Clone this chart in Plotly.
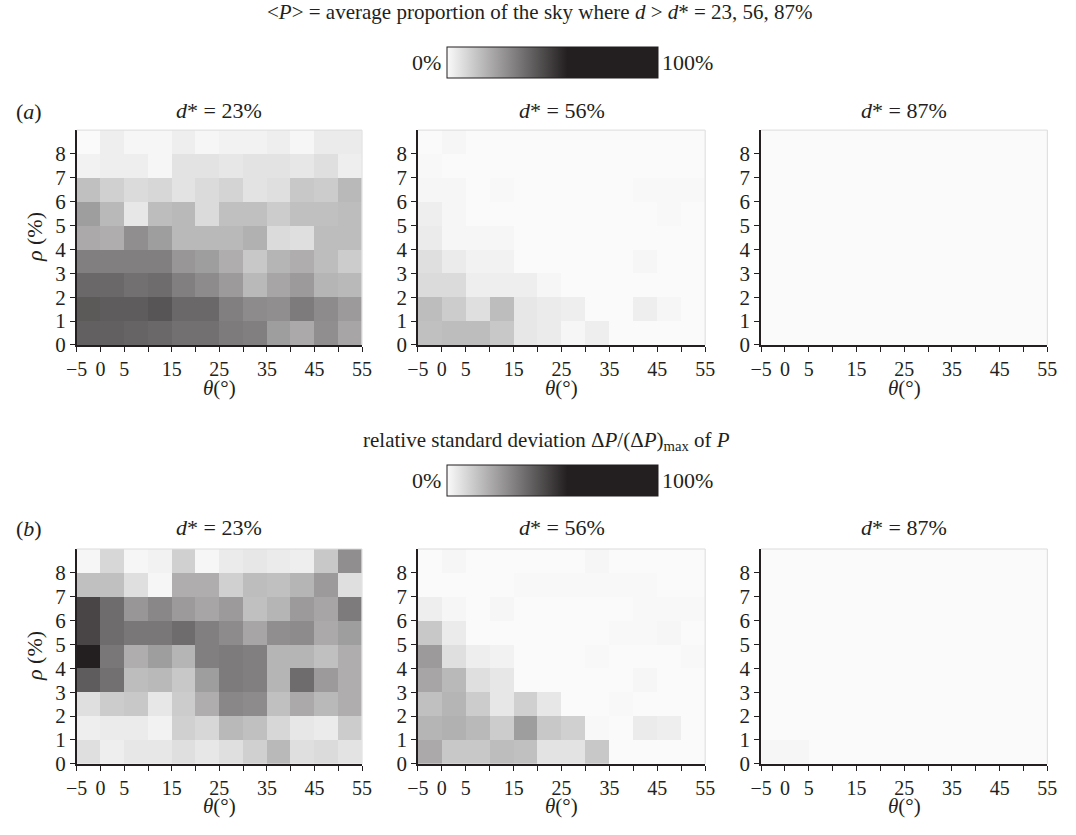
import plotly.graph_objects as go

# ---- data ----
theta_edges = [-5, 0, 5, 10, 15, 20, 25, 30, 35, 40, 45, 50, 55]
rho_edges = [0, 1, 2, 3, 4, 5, 6, 7, 8, 9]
x_tickvals = [-5, 0, 5, 10, 15, 20, 25, 30, 35, 40, 45, 50, 55]
x_ticktext = ["\u22125", "0", "5", " ", "15", " ", "25", " ", "35", " ", "45", " ", "55"]
y_tickvals = [0, 1, 2, 3, 4, 5, 6, 7, 8]
panel_titles = ["23", "56", "87"]

# average proportion <P> (%) ; rows rho = 0..8 (bottom to top)
P_23 = [
    [40, 40, 39, 38, 36, 36, 33, 32, 24, 21, 28, 22],
    [42, 41, 41, 43, 38, 38, 32, 29, 28, 33, 29, 25],
    [38, 38, 36, 37, 32, 29, 25, 17, 22, 25, 18, 17],
    [32, 32, 32, 32, 26, 24, 20, 13, 18, 20, 16, 12],
    [21, 20, 28, 24, 17, 17, 17, 19, 8, 7, 16, 16],
    [24, 17, 5, 16, 17, 8, 15, 15, 12, 15, 15, 16],
    [15, 11, 8, 9, 6, 8, 10, 6, 7, 13, 12, 17],
    [2, 3, 3, 1, 6, 6, 5, 6, 6, 5, 7, 3],
    [0, 3, 1, 1, 3, 1, 2, 2, 3, 1, 4, 4],
]
P_56 = [
    [15, 16, 16, 13, 5, 4, 1, 3, 0, 0, 0, 0],
    [16, 12, 7, 16, 5, 4, 3, 0, 0, 3, 1, 0],
    [8, 8, 3, 3, 3, 1, 0, 0, 0, 0, 0, 0],
    [7, 4, 2, 2, 0, 0, 0, 0, 0, 1, 0, 0],
    [4, 1, 1, 1, 0, 0, 0, 0, 0, 0, 0, 0],
    [3, 1, 0, 0, 0, 0, 0, 0, 0, 0, 0.5, 0],
    [1, 1, 0, 0.5, 0, 0, 0, 0, 0, 0.5, 0.5, 0.5],
    [0.5, 0, 0, 0, 0, 0, 0, 0, 0, 0, 0, 0],
    [0, 1, 0, 0, 0, 0, 0, 0, 0, 0, 0, 0],
]
P_87 = [[0] * 12 for _ in range(9)]

# relative standard deviation dP/(dP)max (%)
dP_23 = [
    [7, 3, 5, 5, 7, 5, 7, 11, 17, 7, 8, 6],
    [3, 4, 4, 2, 11, 9, 17, 15, 9, 5, 4, 12],
    [7, 12, 13, 5, 12, 20, 30, 29, 15, 21, 17, 20],
    [41, 36, 16, 17, 13, 24, 33, 32, 18, 37, 25, 20],
    [100, 34, 20, 24, 18, 32, 33, 32, 18, 18, 15, 20],
    [47, 37, 34, 34, 37, 32, 29, 22, 28, 29, 21, 24],
    [47, 37, 26, 30, 25, 22, 25, 15, 18, 25, 22, 33],
    [15, 15, 7, 1, 20, 20, 11, 16, 15, 18, 25, 7],
    [1, 9, 1, 2, 11, 1, 4, 5, 4, 3, 13, 28],
]
dP_56 = [
    [21, 13, 13, 16, 15, 6, 6, 13, 0, 0, 0, 0],
    [18, 19, 17, 12, 24, 13, 11, 0.5, 0, 4, 3, 0],
    [15, 18, 12, 5, 11, 5, 0, 0, 0.5, 0, 0, 0],
    [22, 17, 7, 5, 0, 0, 0, 0, 0, 1, 0, 0],
    [25, 7, 3, 2, 0, 0, 0, 0.5, 0, 0, 0, 0.5],
    [13, 4, 0, 0, 0, 0, 0, 0, 0.5, 0.5, 1, 0],
    [3, 1, 0, 1, 0, 0, 0, 0, 0, 0.5, 0.5, 0.5],
    [0, 0, 0, 0, 0.5, 0.5, 0.5, 0.5, 0.5, 0.5, 0, 0],
    [0, 1, 0, 0, 0, 0, 0, 1, 0, 0, 0, 0],
]
dP_87 = [[1, 1] + [0] * 10] + [[0] * 12 for _ in range(8)]

# ---- layout helpers ----
W, H = 1076, 835
def fx(x):
    return x / W
def fy(y):
    return 1 - y / H

FONT = "Liberation Serif, Times New Roman, serif"
INK = "#231f20"
colorscale = [[0, "#fafafa"], [0.57, "#231f20"], [1, "#231f20"]]

col_px = [(67, 358), (415, 708), (765, 1057)]
row_px = [(132, 350), (557, 775)]
title_y = [112, 535]
xlab_y = [394, 818]
section_title_y = [12, 447]
cbar_top = [48, 472]

fig = go.Figure()
grids = [[P_23, P_56, P_87], [dP_23, dP_56, dP_87]]

def tfont(s):
    return dict(size=s, family=FONT, color=INK)

layout = dict(
    width=W, height=H,
    margin=dict(l=0, r=0, t=0, b=0),
    paper_bgcolor="white", plot_bgcolor="white",
    font=tfont(20),
    showlegend=False,
)
annotations = []
shapes = []

for r in range(2):
    for c in range(3):
        k = r * 3 + c + 1
        xa = "x" if k == 1 else f"x{k}"
        ya = "y" if k == 1 else f"y{k}"
        fig.add_trace(go.Heatmap(
            x=theta_edges, y=rho_edges, z=grids[r][c],
            coloraxis="coloraxis" if r == 0 else "coloraxis2",
            xaxis=xa, yaxis=ya, hoverinfo="skip",
        ))
        x0, x1 = col_px[c]
        y0, y1 = row_px[r]
        layout[f"xaxis{k}"] = dict(
            domain=[fx(x0), fx(x1)], anchor=ya, range=[-5, 55],
            tickvals=x_tickvals, ticktext=x_ticktext, ticks="outside",
            ticklen=5, tickwidth=1, tickcolor=INK, showline=True,
            linecolor=INK, linewidth=1.5, showgrid=False, zeroline=False,
            tickfont=tfont(20), fixedrange=True,
        )
        layout[f"yaxis{k}"] = dict(
            domain=[fy(y1), fy(y0)], anchor=xa, range=[0, 9],
            tickvals=y_tickvals, ticks="outside", ticklen=5, tickwidth=1,
            tickcolor=INK, showline=True, linecolor=INK, linewidth=1.5,
            showgrid=False, zeroline=False,
            tickfont=tfont(21), fixedrange=True,
        )
        # faint top/right frame
        for (a0, b0, a1, b1) in [(0, 1, 1, 1), (1, 0, 1, 1)]:
            shapes.append(dict(type="line", xref=f"{xa} domain", yref=f"{ya} domain",
                               x0=a0, y0=b0, x1=a1, y1=b1,
                               line=dict(color="#dcdcdc", width=1), layer="above"))
        annotations.append(dict(
            text=f"<i>d</i>* = {panel_titles[c]}%", xref="paper", yref="paper",
            x=fx((x0 + x1) / 2), y=fy(title_y[r]), xanchor="center", yanchor="middle",
            showarrow=False, font=tfont(22)))
        annotations.append(dict(
            text="<i>θ</i>(°)", xref="paper", yref="paper",
            x=fx((x0 + x1) / 2), y=fy(xlab_y[r]), xanchor="center", yanchor="middle",
            showarrow=False, font=tfont(21)))
    # rho label
    annotations.append(dict(
        text="<i>ρ</i> (%)", xref="paper", yref="paper", textangle=-90,
        x=fx(24), y=fy((row_px[r][0] + row_px[r][1]) / 2), xanchor="center", yanchor="middle",
        showarrow=False, font=tfont(22)))
    # panel letter
    annotations.append(dict(
        text="(<i>a</i>)" if r == 0 else "(<i>b</i>)", xref="paper", yref="paper",
        x=fx(3), y=fy(title_y[r] + 1), xanchor="left", yanchor="middle",
        showarrow=False, font=tfont(22)))
    # colorbar end labels
    cy = cbar_top[r] + 15.5
    annotations.append(dict(text="0%", xref="paper", yref="paper", x=fx(441), y=fy(cy),
                            xanchor="right", yanchor="middle", showarrow=False,
                            font=tfont(22)))
    annotations.append(dict(text="100%", xref="paper", yref="paper", x=fx(662), y=fy(cy),
                            xanchor="left", yanchor="middle", showarrow=False,
                            font=tfont(22)))

annotations.append(dict(
    text="&lt;<i>P</i>&gt; = average proportion of the sky where <i>d</i> &gt; <i>d</i>* = 23, 56, 87%",
    xref="paper", yref="paper", x=fx(540), y=fy(section_title_y[0]),
    xanchor="center", yanchor="middle", showarrow=False, font=tfont(21)))
annotations.append(dict(
    text="relative standard deviation Δ<i>P</i>/(Δ<i>P</i>)<sub>max</sub> of <i>P</i>",
    xref="paper", yref="paper", x=fx(546), y=fy(section_title_y[1]),
    xanchor="center", yanchor="middle", showarrow=False, font=tfont(21)))

def cbar(r):
    return dict(
        orientation="h", x=fx((447 + 658) / 2), xanchor="center",
        y=fy(cbar_top[r]), yanchor="top", lenmode="pixels", len=211,
        thickness=31, xpad=0, ypad=0, outlinewidth=1, outlinecolor=INK,
        showticklabels=False, ticks="",
    )

layout["coloraxis"] = dict(colorscale=colorscale, cmin=0, cmax=100, colorbar=cbar(0))
layout["coloraxis2"] = dict(colorscale=colorscale, cmin=0, cmax=100, colorbar=cbar(1))
layout["annotations"] = annotations
layout["shapes"] = shapes
fig.update_layout(**layout)

fig.write_html(
    "out.html",
    config={"displayModeBar": False},
    post_script="document.body.style.margin='0';document.body.style.overflow='hidden';",
)
